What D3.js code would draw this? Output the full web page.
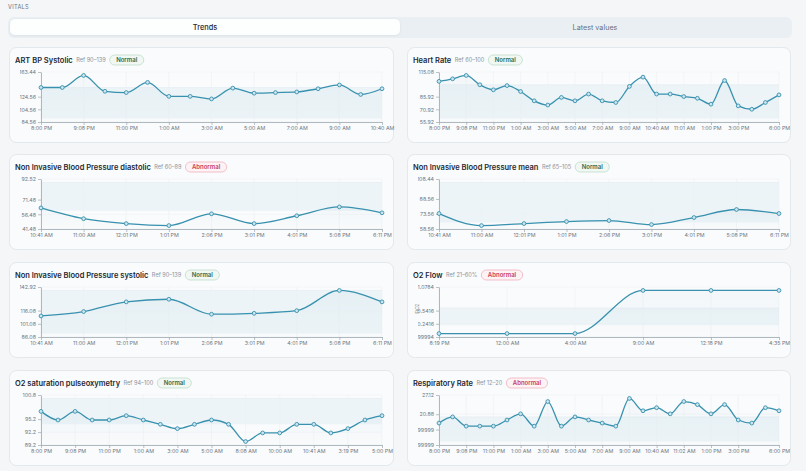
<!DOCTYPE html>
<html>
<head>
<meta charset="utf-8">
<script src="https://cdn.jsdelivr.net/npm/d3@7"></script>
<style>
  html, body { margin: 0; padding: 0; background: #f4f6f8; }
  svg { display: block; font-family: Inter, "Noto Sans", sans-serif; }
</style>
</head>
<body>
<svg id="chart" width="806" height="471"></svg>
<script>
// ART BP Systolic
const artBpTimes = ['8:00 PM', '8:30 PM', '9:08 PM', '10:00 PM', '11:00 PM', '12:00 AM', '1:00 AM', '2:00 AM', '3:00 AM',
    '4:00 AM', '5:00 AM', '6:00 AM', '7:00 AM', '8:00 AM', '9:00 AM', '10:00 AM', '10:40 AM']
const artBpValues = [139, 139, 158, 133, 131, 147, 125, 125, 121, 138, 130, 131, 132, 137, 143, 128, 137]
const artBpTicks = [84.56, 104.56, 124.56, 163.44]
const artBpTickLabels = ['84.56', '104.56', '124.56', '163.44']

// Heart Rate
const hrTimes = ['8:00 PM', '8:30 PM', '9:08 PM', '10:00 PM', '11:00 PM', '12:00 AM', '1:00 AM', '2:00 AM', '3:00 AM',
    '4:00 AM', '5:00 AM', '6:00 AM', '7:00 AM', '8:00 AM', '9:00 AM', '10:00 AM', '10:40 AM', '10:50 AM', '11:01 AM',
    '12:00 PM', '1:00 PM', '2:00 PM', '3:00 PM', '4:00 PM', '5:00 PM', '6:00 PM']
const hrValues = [104, 107, 111, 100, 94, 99, 92, 81, 76, 85, 81, 89, 81, 79, 98, 109, 89, 89, 86, 84, 77, 105, 75, 71, 79, 88]
const hrTicks = [55.92, 70.92, 85.92, 115.08]
const hrTickLabels = ['55.92', '70.92', '85.92', '115.08']

// Non Invasive Blood Pressure (shared times)
const nibpTimes = ['10:41 AM', '11:00 AM', '12:01 PM', '1:01 PM', '2:06 PM', '3:01 PM', '4:01 PM', '5:08 PM', '6:11 PM']
const diaValues = [63, 52, 47, 45, 57, 47, 55, 64, 58]
const diaTicks = [41.48, 56.48, 71.48, 92.52]
const diaTickLabels = ['41.48', '56.48', '71.48', '92.52']
const meanValues = [74, 62, 64, 66, 67, 63, 70, 78, 74]
const meanTicks = [58.56, 73.56, 88.56, 108.44]
const meanTickLabels = ['58.56', '73.56', '88.56', '108.44']
const sysValues = [110, 115, 126, 129, 112, 113, 116, 139, 126]
const sysTicks = [86.08, 101.08, 116.08, 142.92]
const sysTickLabels = ['86.08', '101.08', '116.08', '142.92']

// O2 Flow
const o2FlowTimes = ['8:19 PM', '12:00 AM', '4:00 AM', '9:00 AM', '12:18 PM', '4:35 PM']
const o2FlowValues = [0.02, 0.02, 0.02, 1, 1, 1]
const o2FlowTicks = [-0.0584, 0.2416, 0.5416, 1.0784]
const o2FlowTickLabels = ['-0.058399999999999994', '0.2416', '0.5416', '1.0784']

// O2 saturation pulseoxymetry
const spo2Times = ['8:00 PM', '8:30 PM', '9:08 PM', '10:00 PM', '11:00 PM', '12:00 AM', '1:00 AM', '2:00 AM', '3:00 AM',
    '4:00 AM', '5:00 AM', '6:00 AM', '8:08 AM', '9:00 AM', '10:00 AM', '10:20 AM', '10:41 AM', '1:00 PM', '3:19 PM',
    '4:00 PM', '5:00 PM']
const spo2Values = [97, 95, 97, 95, 95, 96, 95, 94, 93, 94, 95, 94, 90, 92, 92, 94, 94, 92, 93, 95, 96]
const spo2Ticks = [89.2, 92.2, 95.2, 100.8]
const spo2TickLabels = ['89.2', '92.2', '95.2', '100.8']

// Respiratory Rate
const rrTimes = hrTimes.slice(0, 18).concat(['11:02 AM', '12:00 PM', '1:00 PM', '2:00 PM', '3:00 PM', '4:00 PM', '5:00 PM', '6:00 PM'])
const rrValues = [18, 20, 17, 17, 17, 19, 21, 17, 25, 17, 20, 19, 18, 17, 26, 22, 23, 21, 25, 24, 21, 24, 19, 18, 23, 22]
const rrTicks = [10.88, 15.88, 20.88, 27.12]
const rrTickLabels = ['10.879999999999999', '15.879999999999999', '20.88', '27.12']

const panels = [
    { title: 'ART BP Systolic', ref: 'Ref 90–139', refRange: [90, 139], status: 'Normal', times: artBpTimes, values: artBpValues, ticks: artBpTicks, tickLabels: artBpTickLabels },
    { title: 'Heart Rate', ref: 'Ref 60–100', refRange: [60, 100], status: 'Normal', times: hrTimes, values: hrValues, ticks: hrTicks, tickLabels: hrTickLabels },
    { title: 'Non Invasive Blood Pressure diastolic', ref: 'Ref 60–89', refRange: [60, 89], status: 'Abnormal', times: nibpTimes, values: diaValues, ticks: diaTicks, tickLabels: diaTickLabels },
    { title: 'Non Invasive Blood Pressure mean', ref: 'Ref 65–105', refRange: [65, 105], status: 'Normal', times: nibpTimes, values: meanValues, ticks: meanTicks, tickLabels: meanTickLabels },
    { title: 'Non Invasive Blood Pressure systolic', ref: 'Ref 90–139', refRange: [90, 139], status: 'Normal', times: nibpTimes, values: sysValues, ticks: sysTicks, tickLabels: sysTickLabels },
    { title: 'O2 Flow', ref: 'Ref 21–60%', refRange: [0.21, 0.6], status: 'Abnormal', times: o2FlowTimes, values: o2FlowValues, ticks: o2FlowTicks, tickLabels: o2FlowTickLabels, yLabel: 'FiO2' },
    { title: 'O2 saturation pulseoxymetry', ref: 'Ref 94–100', refRange: [94, 100], status: 'Normal', times: spo2Times, values: spo2Values, ticks: spo2Ticks, tickLabels: spo2TickLabels },
    { title: 'Respiratory Rate', ref: 'Ref 12–20', refRange: [12, 20], status: 'Abnormal', times: rrTimes, values: rrValues, ticks: rrTicks, tickLabels: rrTickLabels }
]

const lineColor = '#3891ae'
const svg = d3.select('#chart')

const defs = svg.append('defs')
let grad = defs.append('linearGradient').attr('id', 'areaFill').attr('x1', 0).attr('x2', 0).attr('y1', 0).attr('y2', 1)
grad.append('stop').attr('offset', '0%').attr('stop-color', lineColor).attr('stop-opacity', 0.04)
grad.append('stop').attr('offset', '100%').attr('stop-color', lineColor).attr('stop-opacity', 0.01)

let shadow = defs.append('filter').attr('id', 'tabShadow').attr('x', -0.1).attr('y', -0.5).attr('width', 1.2).attr('height', 2)
shadow.append('feDropShadow').attr('dx', 0).attr('dy', 0.5).attr('stdDeviation', 0.8).attr('flood-color', '#000').attr('flood-opacity', 0.08)

// header
svg.append('text').attr('x', 8).attr('y', 9).attr('font-size', 5.6).attr('letter-spacing', 0.3)
    .attr('fill', '#6b7480').text('VITALS')

svg.append('rect').attr('x', 8).attr('y', 17).attr('width', 784).attr('height', 21).attr('rx', 6).attr('fill', '#eaeff3')
svg.append('rect').attr('x', 10).attr('y', 19).attr('width', 390).attr('height', 16).attr('rx', 5)
    .attr('fill', '#fdfefe').attr('filter', 'url(#tabShadow)')
svg.append('text').attr('x', 205).attr('y', 27.5).attr('dy', '0.35em').attr('text-anchor', 'middle')
    .attr('font-size', 7.4).attr('font-weight', 500).attr('fill', '#1f2933').text('Trends')
svg.append('text').attr('x', 595).attr('y', 27.5).attr('dy', '0.35em').attr('text-anchor', 'middle')
    .attr('font-size', 7.2).attr('fill', '#66707c').text('Latest values')

const colX = [9, 407], colW = [385, 384]
const rowY = [47, 154, 262, 370], panelH = 96

panels.forEach((p, i) => {
    let px = colX[i % 2], pw = colW[i % 2], py = rowY[Math.floor(i / 2)]
    let g = svg.append('g')

    g.append('rect').attr('x', px + 0.5).attr('y', py + 0.5).attr('width', pw - 1).attr('height', panelH - 1)
        .attr('rx', 7).attr('fill', '#fafbfc').attr('stroke', '#e3e8ec')

    // title row
    let title = g.append('text').attr('x', px + 6).attr('y', py + 13).attr('dy', '0.35em')
        .attr('font-size', 7.5).attr('font-weight', 600).attr('fill', '#1e2832').text(p.title)
    let tx = px + 6 + title.node().getComputedTextLength() + 3.5
    let ref = g.append('text').attr('x', tx).attr('y', py + 13).attr('dy', '0.35em')
        .attr('font-size', 5.6).attr('fill', '#8a949e').text(p.ref)
    let bx = tx + ref.node().getComputedTextLength() + 4
    let ok = p.status === 'Normal'
    let badgeText = g.append('text').attr('y', py + 13).attr('dy', '0.35em').attr('text-anchor', 'middle')
        .attr('font-size', 6).attr('font-weight', 600).attr('fill', ok ? '#2f6a4c' : '#c9415e').text(p.status)
    let bw = badgeText.node().getComputedTextLength() + 13
    g.insert('rect', 'text:last-child').attr('x', bx).attr('y', py + 8).attr('width', bw).attr('height', 10).attr('rx', 5)
        .attr('fill', ok ? '#f1f8f3' : '#fdf2f4').attr('stroke', ok ? '#b8d8c4' : '#eea7b6').attr('stroke-width', 0.7)
    badgeText.attr('x', bx + bw / 2)

    // scales
    let x0 = px + 32, x1 = px + pw - 12, yTop = py + 25, yBot = py + 75
    let x = d3.scalePoint().domain(p.times).range([x0, x1])
    let y = d3.scaleLinear().domain(d3.extent(p.ticks)).range([yBot, yTop])

    let n = p.times.length
    let xTicks = p.times.filter((t, k) => n <= 9 || (k % 2 === 0 && k < n - 2) || k === n - 1)

    // ref band
    g.append('rect').attr('x', x0).attr('width', x1 - x0)
        .attr('y', y(p.refRange[1])).attr('height', y(p.refRange[0]) - y(p.refRange[1]))
        .attr('fill', '#edf4f7')
    g.append('line').attr('x1', x0).attr('x2', x1).attr('y1', y(p.refRange[1])).attr('y2', y(p.refRange[1]))
        .attr('stroke', '#e2ebf0').attr('stroke-width', 0.6)

    // grid
    g.append('g').selectAll('line.vg').data(xTicks).enter().append('line').classed('vg', true)
        .attr('x1', d => x(d)).attr('x2', d => x(d)).attr('y1', yTop).attr('y2', yBot)
        .attr('stroke', '#edf0f3').attr('stroke-width', 0.6)
    g.append('g').selectAll('line.hg').data(p.ticks).enter().append('line').classed('hg', true)
        .attr('x1', x0).attr('x2', x1).attr('y1', d => y(d)).attr('y2', d => y(d))
        .attr('stroke', '#eef1f4').attr('stroke-width', 0.6)

    // area + line
    let pts = p.times.map((t, k) => ({ t, v: p.values[k] }))
    g.append('path').datum(pts)
        .attr('d', d3.area().x(d => x(d.t)).y0(yBot).y1(d => y(d.v)).curve(d3.curveMonotoneX))
        .attr('fill', 'url(#areaFill)')
    g.append('path').datum(pts)
        .attr('d', d3.line().x(d => x(d.t)).y(d => y(d.v)).curve(d3.curveMonotoneX))
        .attr('fill', 'none').attr('stroke', lineColor).attr('stroke-width', 1.3)

    // axes (y labels clipped at panel padding, long float labels get cut)
    let clipId = 'clip' + i
    defs.append('clipPath').attr('id', clipId).append('rect')
        .attr('x', px + 11).attr('y', py).attr('width', pw - 11).attr('height', panelH)

    let yWrap = g.append('g').attr('clip-path', `url(#${clipId})`)
    let yAxis = yWrap.append('g').attr('transform', `translate(${x0},0)`)
        .call(d3.axisLeft(y).tickValues(p.ticks).tickFormat((d, k) => p.tickLabels[k]).tickSize(3).tickSizeOuter(0).tickPadding(2))
    let xAxis = g.append('g').attr('transform', `translate(0,${yBot})`)
        .call(d3.axisBottom(x).tickValues(xTicks).tickSize(3).tickSizeOuter(0).tickPadding(1.5))

    ;[yAxis, xAxis].forEach(a => {
        a.attr('font-family', null).attr('font-size', null)
        a.select('.domain').attr('stroke', '#9ea7b0').attr('stroke-width', 0.8)
        a.selectAll('.tick line').attr('stroke', '#9ea7b0').attr('stroke-width', 0.7)
        a.selectAll('.tick text').attr('fill', '#6d7782').attr('font-size', 5.3)
    })

    if (p.yLabel) {
        g.append('text').attr('transform', `translate(${px + 12},${y(0.54) - 2}) rotate(-90)`)
            .attr('text-anchor', 'middle').attr('font-size', 4.4).attr('fill', '#6d7782').text(p.yLabel)
    }

    // points
    g.append('g').selectAll('circle').data(pts).enter().append('circle')
        .attr('cx', d => x(d.t)).attr('cy', d => y(d.v)).attr('r', 1.9)
        .attr('fill', '#cde5ee').attr('stroke', lineColor).attr('stroke-width', 0.9)
})
</script>
</body>
</html>
